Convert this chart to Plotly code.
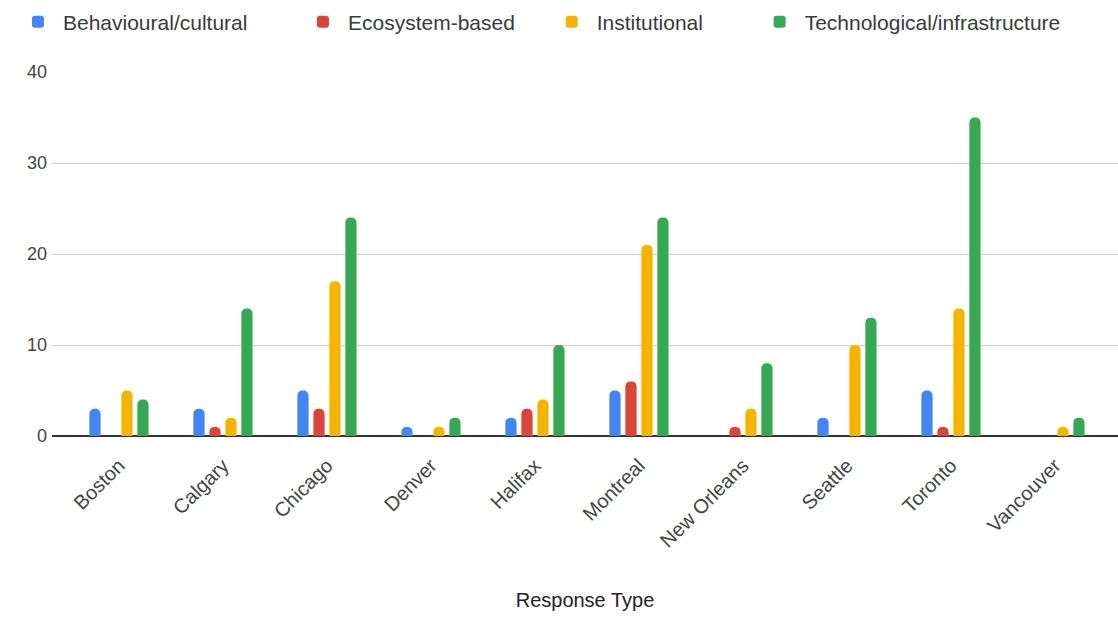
import plotly.graph_objects as go

cities = ["Boston", "Calgary", "Chicago", "Denver", "Halifax", "Montreal",
          "New Orleans", "Seattle", "Toronto", "Vancouver"]
behavioural = [3, 3, 5, 1, 2, 5, 0, 2, 5, 0]
ecosystem = [0, 1, 3, 0, 3, 6, 1, 0, 1, 0]
institutional = [5, 2, 17, 1, 4, 21, 3, 10, 14, 1]
technological = [4, 14, 24, 2, 10, 24, 8, 13, 35, 2]

FONT = "Liberation Sans, Arial, sans-serif"

# one small legend per series so each entry can sit at its own position
series = [
    ("Behavioural/cultural", behavioural, "#4285F4", "legend", 0.0116),
    ("Ecosystem-based", ecosystem, "#DB4437", "legend2", 0.2665),
    ("Institutional", institutional, "#F4B400", "legend3", 0.489),
    ("Technological/infrastructure", technological, "#34A853", "legend4", 0.675),
]

fig = go.Figure()
legend_layouts = {}
for name, vals, color, leg, lx in series:
    fig.add_trace(go.Bar(
        x=list(range(len(cities))), y=vals, name=name,
        marker=dict(color=color, line=dict(width=0)),
        legend=leg,
    ))
    legend_layouts[leg] = dict(
        x=lx, y=1 - 22 / 619, xref="container", yref="container",
        xanchor="left", yanchor="middle",
        orientation="h", bgcolor="rgba(0,0,0,0)",
        font=dict(family=FONT, size=21, color="#3a3a3a"),
        itemwidth=40,
    )

fig.update_layout(
    width=1118, height=619,
    margin=dict(l=52, r=0, t=72, b=183),
    paper_bgcolor="white", plot_bgcolor="white",
    showlegend=True,
    barmode="group", bargap=0.385, bargroupgap=0.3,
    barcornerradius=5,
    font=dict(family=FONT, color="#444444"),
    xaxis=dict(
        tickmode="array", tickvals=list(range(len(cities))), ticktext=cities,
        range=[-0.644, 9.606], tickangle=-45,
        tickfont=dict(size=20, color="#444444"),
        showgrid=False, zeroline=False, showline=False, ticks="",
        ticklabelstandoff=13,
        title=dict(text="Response Type", font=dict(size=20, color="#222222"), standoff=42),
        fixedrange=True,
    ),
    yaxis=dict(
        range=[0, 40], tickvals=[0, 10, 20, 30, 40],
        tickfont=dict(size=18, color="#444444"),
        gridcolor="#CCCCCC", gridwidth=1,
        zeroline=True, zerolinecolor="#333333", zerolinewidth=1.5,
        showline=False, ticks="", ticklabelstandoff=4,
        fixedrange=True,
    ),
    **legend_layouts,
)

fig.write_html("out.html")
